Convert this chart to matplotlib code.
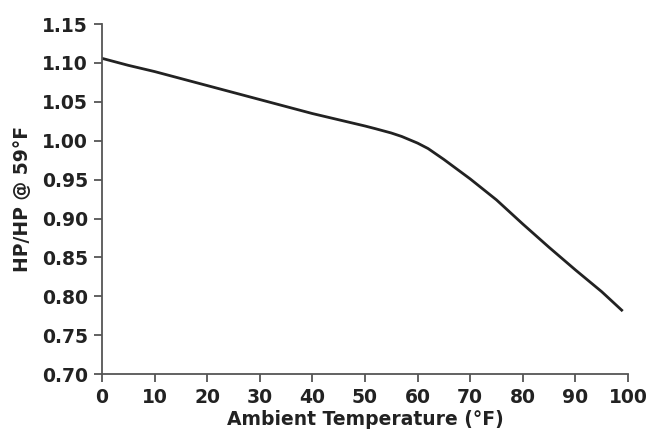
import matplotlib
matplotlib.use("Agg")
import matplotlib.pyplot as plt

temp_f = [0, 5, 10, 15, 20, 25, 30, 35, 40, 45, 50, 52, 55, 57, 60, 62, 65, 67, 70, 75, 80, 85, 90, 95, 99]
hp_ratio = [1.106, 1.097, 1.089, 1.080, 1.071, 1.062, 1.053, 1.044, 1.035, 1.027, 1.019,
            1.0155, 1.010, 1.0055, 0.997, 0.990, 0.976, 0.966, 0.951, 0.924, 0.893,
            0.863, 0.834, 0.806, 0.781]
x_ticks = [0, 10, 20, 30, 40, 50, 60, 70, 80, 90, 100]
y_ticks = [0.70, 0.75, 0.80, 0.85, 0.90, 0.95, 1.00, 1.05, 1.10, 1.15]

plt.rcParams['font.family'] = ['DejaVu Sans']
fig = plt.figure(figsize=(6.49, 4.34), dpi=100)
ax = fig.add_axes([0.157, 0.138, 0.8106, 0.8065])

ax.plot(temp_f, hp_ratio, color='#222222', lw=2.0, solid_capstyle='butt', solid_joinstyle='round')
ax.set_xlim(0, 100)
ax.set_ylim(0.70, 1.15)
ax.set_xticks(x_ticks)
ax.set_yticks(y_ticks)
ax.set_yticklabels([f"{v:.2f}" for v in y_ticks])
for s in ['top', 'right']:
    ax.spines[s].set_visible(False)
for s in ['left', 'bottom']:
    ax.spines[s].set_color('#555555')
    ax.spines[s].set_linewidth(1.3)
ax.tick_params(direction='out', length=6, width=1.3, color='#555555',
               labelsize=13.5, labelcolor='#222222', pad=4)
for lab in ax.get_xticklabels() + ax.get_yticklabels():
    lab.set_fontweight('bold')
ax.set_xlabel('Ambient Temperature (°F)', fontsize=13.5, fontweight='bold', color='#222222', labelpad=2)
ax.set_ylabel('HP/HP @ 59°F', fontsize=13.5, fontweight='bold', color='#222222', labelpad=7)

fig.savefig('out.png', dpi=100)
